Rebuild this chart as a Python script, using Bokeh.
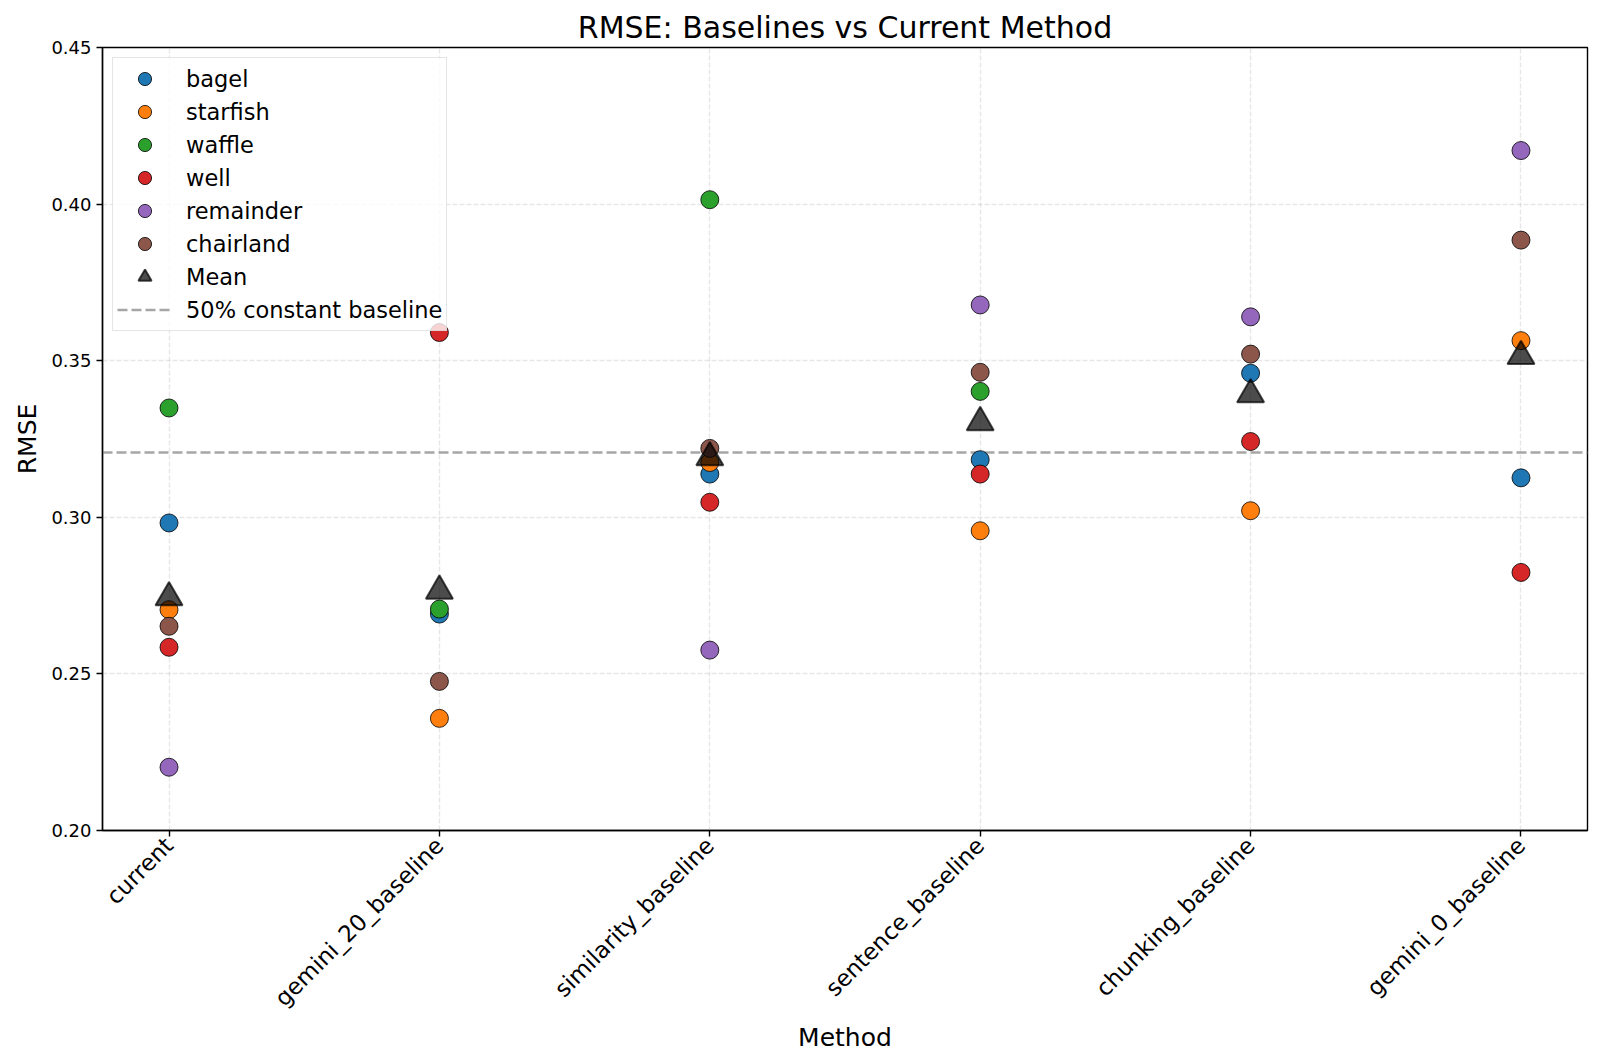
import math
from bokeh.plotting import figure
from bokeh.models import (Range1d, FixedTicker, NumeralTickFormatter, Span,
                          Legend, LegendItem, ColumnDataSource)
from bokeh.embed import file_html
from bokeh.resources import INLINE

nan = float("nan")

# ---- data ----
methods = ["current", "gemini_20_baseline", "similarity_baseline",
           "sentence_baseline", "chunking_baseline", "gemini_0_baseline"]
series_names = ["bagel", "starfish", "waffle", "well", "remainder", "chairland"]
bagel     = [0.2982, 0.2691, 0.3138, 0.3184, 0.3460, 0.3126]
starfish  = [0.2705, 0.2358, 0.3175, 0.2957, 0.3021, 0.3564]
waffle    = [0.3349, 0.2707, 0.4014, 0.3402, nan,    nan]
well      = [0.2585, 0.3590, 0.3048, 0.3138, 0.3242, 0.2824]
remainder = [0.2202, nan,    0.2576, 0.3678, 0.3640, 0.4171]
chairland = [0.2652, 0.2476, 0.3220, 0.3463, 0.3521, 0.3885]
mean_rmse = [0.2744, 0.2765, 0.3191, 0.3303, 0.3392, 0.3514]
baseline_rmse = 0.3207
y_ticks = [0.20, 0.25, 0.30, 0.35, 0.40, 0.45]
y_limits = (0.20, 0.45)

series_values = [bagel, starfish, waffle, well, remainder, chairland]
colors = ["#1f77b4", "#ff7f0e", "#2ca02c", "#d62728", "#9467bd", "#8c564b"]

FONT = "DejaVu Sans"
x_idx = list(range(len(methods)))
pad = 0.246

p = figure(frame_width=1485, frame_height=783,
           x_range=Range1d(-pad, len(methods) - 1 + pad),
           y_range=Range1d(*y_limits),
           output_backend="svg", toolbar_location=None,
           title="RMSE: Baselines vs Current Method",
           min_border_left=102, min_border_right=11,
           min_border_top=47, min_border_bottom=226)

p.background_fill_color = "white"
p.border_fill_color = "white"
p.outline_line_color = "black"
p.outline_line_width = 1.4

p.title.align = "center"
p.title.text_font = FONT
p.title.text_font_size = "30px"
p.title.text_font_style = "normal"
p.title.text_color = "black"
p.title.standoff = 5

xt = FixedTicker(ticks=x_idx)
yt = FixedTicker(ticks=y_ticks)
p.xaxis.ticker = xt
p.xgrid.ticker = xt
p.yaxis.ticker = yt
p.ygrid.ticker = yt
p.xaxis.major_label_overrides = {i: m for i, m in enumerate(methods)}
p.xaxis.major_label_orientation = math.pi / 4
p.yaxis.formatter = NumeralTickFormatter(format="0.00")

for ax in (p.xaxis[0], p.yaxis[0]):
    ax.axis_line_color = "black"
    ax.axis_line_width = 1.4
    ax.major_tick_line_color = "black"
    ax.major_tick_line_width = 1.4
    ax.major_tick_out = 6
    ax.major_tick_in = 0
    ax.minor_tick_line_color = None
    ax.major_label_text_font = FONT
    ax.major_label_text_color = "black"
    ax.axis_label_text_font = FONT
    ax.axis_label_text_font_size = "25px"
    ax.axis_label_text_font_style = "normal"
    ax.axis_label_text_color = "black"
    ax.major_label_standoff = 5

p.xaxis.major_label_text_font_size = "23px"
p.yaxis.major_label_text_font_size = "18px"
p.xaxis.axis_label = "Method"
p.yaxis.axis_label = "RMSE"
p.xaxis.axis_label_standoff = 0
p.yaxis.axis_label_standoff = 6

p.grid.grid_line_color = "#b0b0b0"
p.grid.grid_line_alpha = 0.3
p.grid.grid_line_dash = "5 2"
p.grid.grid_line_width = 1.4

base_color = "#a6a6a6"
span = Span(location=baseline_rmse, dimension="width", line_color=base_color,
            line_dash="10 4", line_width=2.5, level="underlay")
p.add_layout(span)

items = []
for name, vals, c in zip(series_names, series_values, colors):
    src = ColumnDataSource(dict(x=x_idx, y=vals))
    r = p.scatter("x", "y", source=src, marker="circle", size=18,
                  fill_color=c, line_color="black", line_width=0.8)
    items.append(LegendItem(label=name, renderers=[r]))

msrc = ColumnDataSource(dict(x=x_idx, y=mean_rmse))
rm = p.scatter("x", "y", source=msrc, marker="triangle", size=27,
               fill_color="black", fill_alpha=0.7,
               line_color="black", line_alpha=0.7, line_width=2)
items.append(LegendItem(label="Mean", renderers=[rm]))

# legend-only renderer for the constant baseline (single point: draws nothing)
bsrc = ColumnDataSource(dict(x=[x_idx[0]], y=[baseline_rmse]))
rb = p.line("x", "y", source=bsrc, line_color=base_color, line_dash="10 4",
            line_width=2.5)
items.append(LegendItem(label="50% constant baseline", renderers=[rb]))

legend = Legend(items=items, location="top_left")
legend.label_text_font = FONT
legend.label_text_font_size = "22.5px"
legend.label_text_color = "black"
legend.padding = 4
legend.spacing = 0
legend.glyph_width = 55
legend.glyph_height = 33
legend.label_height = 25
legend.label_standoff = 14
legend.margin = 10
legend.border_line_color = "#cccccc"
legend.border_line_width = 1.4
legend.background_fill_alpha = 0.8
p.add_layout(legend)

open("out.html", "w").write(file_html(p, INLINE, title="RMSE"))
